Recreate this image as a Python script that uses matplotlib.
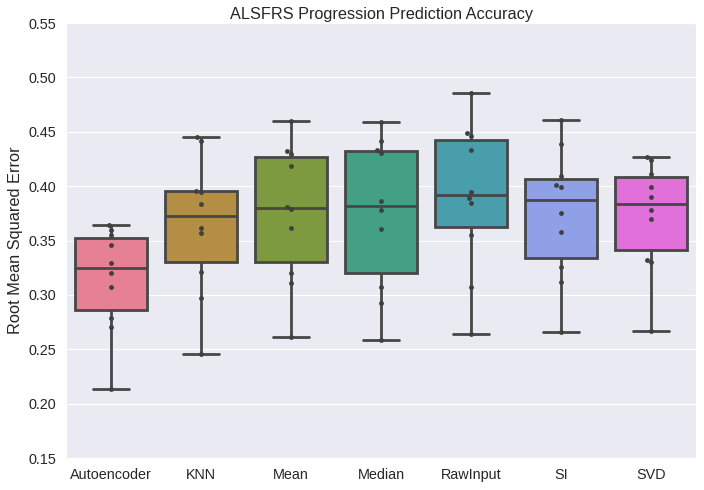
import matplotlib
matplotlib.use("Agg")
import matplotlib.pyplot as plt
import numpy as np
import pandas as pd
import seaborn as sns

# RMSE per fold for each imputation method
methods = ["Autoencoder", "KNN", "Mean", "Median", "RawInput", "SI", "SVD"]
autoencoder = [0.214, 0.271, 0.279, 0.307, 0.320, 0.329, 0.346, 0.355, 0.360, 0.364]
knn = [0.246, 0.297, 0.321, 0.357, 0.362, 0.384, 0.395, 0.396, 0.442, 0.445]
mean = [0.261, 0.311, 0.320, 0.362, 0.379, 0.381, 0.4185, 0.430, 0.432, 0.460]
median = [0.259, 0.293, 0.307, 0.361, 0.378, 0.386, 0.4305, 0.433, 0.4415, 0.459]
rawinput = [0.264, 0.307, 0.355, 0.385, 0.389, 0.395, 0.433, 0.446, 0.449, 0.486]
si = [0.266, 0.312, 0.326, 0.358, 0.3756, 0.3995, 0.4007, 0.409, 0.4385, 0.461]
svd = [0.267, 0.330, 0.332, 0.370, 0.378, 0.390, 0.3995, 0.411, 0.424, 0.427]

series = [autoencoder, knn, mean, median, rawinput, si, svd]
df = pd.DataFrame({
    "method": np.repeat(methods, [len(s) for s in series]),
    "rmse": np.concatenate(series),
})

sns.set_style("darkgrid")
plt.rcParams["font.family"] = ["Liberation Sans", "DejaVu Sans"]

fig = plt.figure(figsize=(7.04, 4.90), dpi=100)
ax = fig.add_axes([0.094, 0.065, 0.895, 0.888])

sns.boxplot(data=df, x="method", y="rmse", hue="method", order=methods,
            palette="husl", legend=False, linewidth=2, width=0.8,
            linecolor="0.28", whis=np.inf, ax=ax)
sns.swarmplot(data=df, x="method", y="rmse", order=methods,
              color=".25", size=3.5, ax=ax)

ax.set_ylim(0.15, 0.55)
ax.set_yticks(np.arange(0.15, 0.551, 0.05))
ax.set_xlim(-0.5, 6.5)
ax.set_title("ALSFRS Progression Prediction Accuracy", fontsize=11.7, pad=3)
ax.set_ylabel("Root Mean Squared Error", fontsize=11.8)
ax.set_xlabel("")
ax.tick_params(labelsize=10.4)

fig.savefig("out.png", dpi=100)
